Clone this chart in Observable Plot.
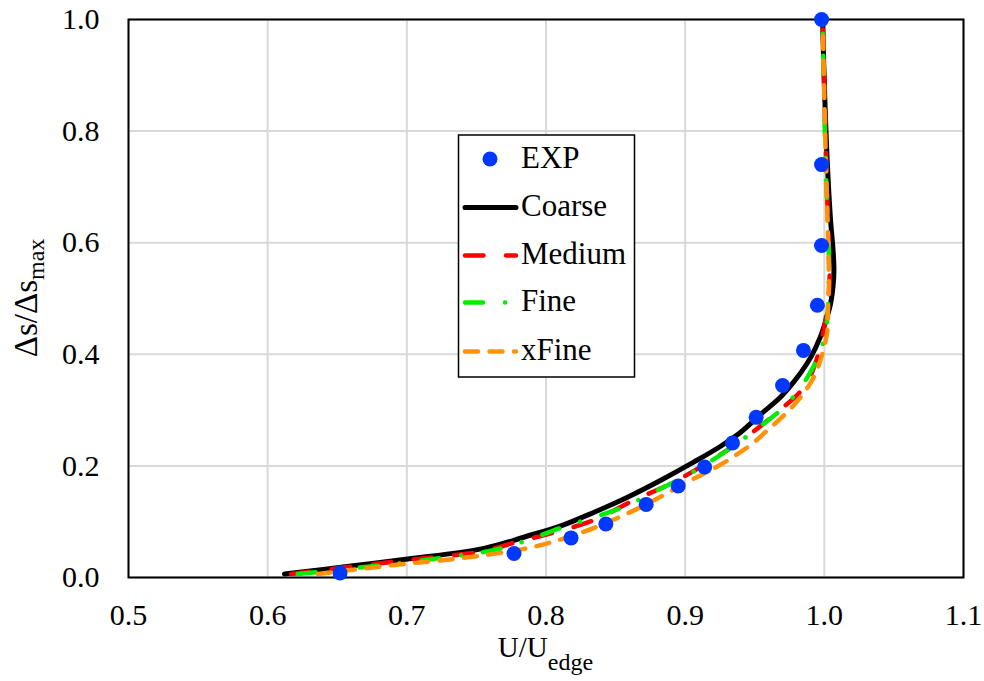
<!DOCTYPE html>
<html>
<head>
<meta charset="utf-8">
<script src="https://cdn.jsdelivr.net/npm/d3@7"></script>
<script src="https://cdn.jsdelivr.net/npm/@observablehq/plot@0.6"></script>
<style>
  body { margin: 0; background: #fff; }
  #chart svg { display: block; }
</style>
</head>
<body>
<div id="chart"></div>
<script>
// ---- data ----
const xTicks = [0.5, 0.6, 0.7, 0.8, 0.9, 1.0, 1.1];
const yTicks = [0.0, 0.2, 0.4, 0.6, 0.8, 1.0];

const expU = [0.652, 0.777, 0.818, 0.843, 0.872, 0.895, 0.914, 0.934, 0.951, 0.970, 0.985, 0.995, 0.998, 0.998, 0.998];
const expY = [0.008, 0.043, 0.071, 0.096, 0.131, 0.164, 0.198, 0.241, 0.287, 0.344, 0.407, 0.488, 0.595, 0.740, 1.000];

const coarseU = [0.6121, 0.6599, 0.7006, 0.7556, 0.7856, 0.8107, 0.8346, 0.8586, 0.8825, 0.9064, 0.9255, 0.9399, 0.9542, 0.9686, 0.9806, 0.9902, 0.9973, 1.0016, 1.0045, 1.0063, 1.0069, 1.0063, 1.0045, 1.0024, 1.0009, 0.9995, 0.9988];
const coarseY = [0.0063, 0.0206, 0.0331, 0.0522, 0.0735, 0.0925, 0.1170, 0.1440, 0.1744, 0.2072, 0.2352, 0.2603, 0.2925, 0.3234, 0.3587, 0.3945, 0.4320, 0.4642, 0.4911, 0.5233, 0.5501, 0.5859, 0.6395, 0.7290, 0.8184, 0.9258, 1.0000];

const mediumU = [0.6169, 0.7006, 0.7222, 0.7533, 0.7796, 0.8035, 0.8346, 0.8633, 0.8873, 0.9112, 0.9423, 0.9649, 0.9854, 0.9950, 1.0022, 1.0038, 1.0031, 1.0017, 1.0002, 0.9988];
const mediumY = [0.0063, 0.0313, 0.0372, 0.0462, 0.0640, 0.0791, 0.1029, 0.1386, 0.1655, 0.1982, 0.2490, 0.2937, 0.3413, 0.3950, 0.4844, 0.5381, 0.6038, 0.7111, 0.8542, 1.0000];

const fineU = [0.6217, 0.6719, 0.7222, 0.7676, 0.8131, 0.8561, 0.8777, 0.8992, 0.9196, 0.9566, 0.9734, 0.9882, 0.9997, 1.0033, 1.0024, 1.0009, 0.9995, 0.9988];
const fineY = [0.0063, 0.0193, 0.0343, 0.0522, 0.0909, 0.1267, 0.1535, 0.1803, 0.2102, 0.2758, 0.3116, 0.3605, 0.4249, 0.5501, 0.6395, 0.7469, 0.8900, 1.0000];

const xfineU = [0.6360, 0.6910, 0.7437, 0.7913, 0.8274, 0.8561, 0.8801, 0.9016, 0.9160, 0.9327, 0.9483, 0.9591, 0.9710, 0.9830, 0.9925, 0.9986, 1.0022, 1.0026, 1.0033, 1.0027, 1.0013, 0.9999, 0.9988];
const xfineY = [0.0063, 0.0224, 0.0361, 0.0551, 0.0823, 0.1118, 0.1417, 0.1714, 0.1893, 0.2132, 0.2401, 0.2639, 0.2907, 0.3234, 0.3592, 0.4011, 0.4428, 0.4844, 0.5263, 0.6038, 0.7290, 0.8721, 1.0000];

const seriesNames = ["EXP", "Coarse", "Medium", "Fine", "xFine"];

// ---- styles ----
const styles = {
  EXP:    { fill: "#0038ff" },
  Coarse: { stroke: "#000000", strokeWidth: 5, dash: null },
  Medium: { stroke: "#ff0000", strokeWidth: 4.5, dash: "18.5,22.5" },
  Fine:   { stroke: "#00ee00", strokeWidth: 4.5, dash: "18,22,0.1,22" },
  xFine:  { stroke: "#ff9208", strokeWidth: 4.5, dash: "13,11.5" }
};

const rows = (u, y) => u.map((v, i) => ({ u: v, y: y[i] }));
const lineData = {
  Coarse: rows(coarseU, coarseY),
  Medium: rows(mediumU, mediumY),
  Fine: rows(fineU, fineY),
  xFine: rows(xfineU, xfineY)
};

const serif = "'Liberation Serif', 'Times New Roman', serif";

const lineMarks = ["Coarse", "Medium", "Fine", "xFine"].map(k =>
  Plot.line(lineData[k], {
    x: "u", y: "y",
    stroke: styles[k].stroke,
    strokeWidth: styles[k].strokeWidth,
    strokeDasharray: styles[k].dash,
    strokeLinecap: "round",
    strokeLinejoin: "round",
    curve: "catmull-rom"
  })
);

const plot = Plot.plot({
  width: 984,
  height: 681,
  marginLeft: 128,
  marginRight: 21,
  marginTop: 19,
  marginBottom: 104,
  style: { fontFamily: serif, fontSize: "30px", color: "#000", background: "#fff" },
  x: { domain: [0.5, 1.1] },
  y: { domain: [0, 1] },
  marks: [
    Plot.gridX(xTicks, { stroke: "#d9d9d9", strokeOpacity: 1, strokeWidth: 2 }),
    Plot.gridY(yTicks, { stroke: "#d9d9d9", strokeOpacity: 1, strokeWidth: 2 }),
    Plot.frame({ stroke: "#000", strokeWidth: 2 }),
    Plot.axisX(xTicks, { tickSize: 0, tickPadding: 26, tickFormat: d => d.toFixed(1), label: null, fontSize: 30 }),
    Plot.axisY(yTicks, { tickSize: 0, tickPadding: 29, tickFormat: d => d.toFixed(1), label: null, fontSize: 30 }),
    ...lineMarks,
    Plot.dot(rows(expU, expY), { x: "u", y: "y", r: 7.5, fill: styles.EXP.fill, stroke: "none" })
  ]
});

document.getElementById("chart").appendChild(plot);

// ---- axis titles with subscripts ----
const svg = d3.select(plot);
const xs = plot.scale("x"), ys = plot.scale("y");
const plotMidX = (xs.apply(0.5) + xs.apply(1.1)) / 2;
const plotMidY = (ys.apply(0) + ys.apply(1)) / 2;

const xt = svg.append("text")
  .attr("x", plotMidX).attr("y", 657)
  .attr("text-anchor", "middle")
  .attr("font-family", serif).attr("font-size", 29).attr("fill", "#000");
xt.append("tspan").text("U/U");
xt.append("tspan").attr("dy", 13).attr("font-size", 24).text("edge");

const yt = svg.append("text")
  .attr("transform", `translate(37,${plotMidY}) rotate(-90)`)
  .attr("text-anchor", "middle")
  .attr("font-family", serif).attr("font-size", 33).attr("fill", "#000");
yt.append("tspan").text("Δs/Δs");
yt.append("tspan").attr("dy", 7).attr("font-size", 24).text("max");

// ---- legend ----
const lg = svg.append("g");
lg.append("rect").attr("x", 458.5).attr("y", 135).attr("width", 176).attr("height", 242)
  .attr("fill", "#fff").attr("stroke", "#000").attr("stroke-width", 1.5);
const rowY = [159, 207.5, 255.5, 302.5, 351.5];
seriesNames.forEach((name, i) => {
  const cy = rowY[i];
  if (name === "EXP") {
    lg.append("circle").attr("cx", 490).attr("cy", cy).attr("r", 7.5).attr("fill", styles.EXP.fill);
  } else {
    const s = styles[name];
    lg.append("line").attr("x1", 465).attr("x2", 516).attr("y1", cy).attr("y2", cy)
      .attr("stroke", s.stroke).attr("stroke-width", s.strokeWidth)
      .attr("stroke-linecap", "round")
      .attr("stroke-dasharray", s.dash);
  }
  lg.append("text").attr("x", 521).attr("y", cy + 8.5)
    .attr("text-anchor", "start")
    .attr("font-family", serif).attr("font-size", 31).attr("fill", "#000").text(name);
});
</script>
</body>
</html>
